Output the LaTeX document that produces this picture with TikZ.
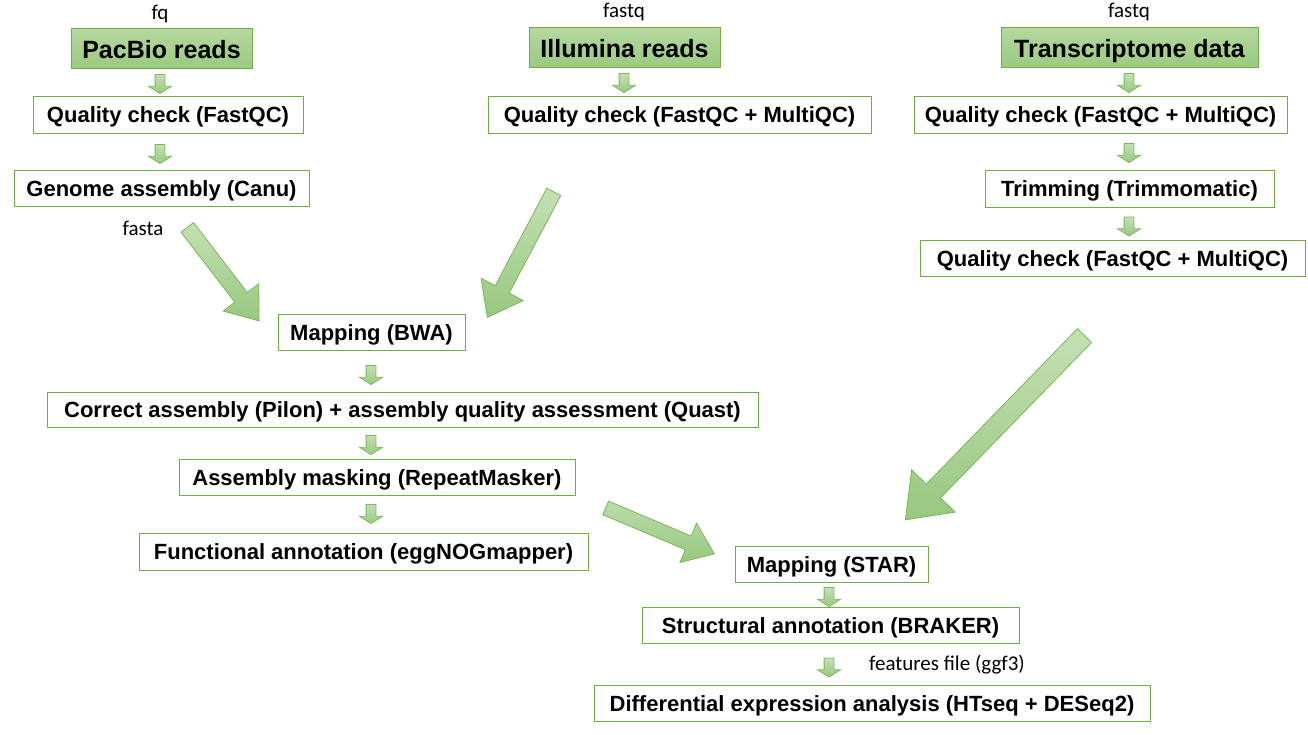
\documentclass[tikz,border=0pt]{standalone}
\usepackage{fontspec}
\setmainfont{Liberation Sans}
\newfontfamily\notefont{Carlito}
\usetikzlibrary{positioning,calc,shapes.arrows}
\definecolor{boxEdge}{HTML}{70AD47}
\definecolor{headTop}{HTML}{B5D8A0}
\definecolor{headBot}{HTML}{9ACA7F}
\definecolor{arrLight}{HTML}{C4E0B4}
\definecolor{arrDark}{HTML}{98C87F}
\definecolor{arrEdge}{HTML}{7DB65C}

\begin{document}
\begin{tikzpicture}[
    x=1pt, y=-1pt,
    font=\fontsize{22}{26}\selectfont\bfseries,
    box/.style={draw=boxEdge, line width=1pt, fill=white, minimum height=37pt,
      inner sep=0pt, text depth=0pt, align=center},
    head/.style={box, top color=headTop, bottom color=headBot, minimum height=40pt,
      font=\fontsize{25}{30}\selectfont\bfseries},
    note/.style={font=\notefont\fontsize{21}{25}\selectfont, inner sep=0pt},
    flow/.style={single arrow, draw=arrEdge, line width=0.8pt, top color=arrLight,
      bottom color=arrDark, inner xsep=0pt, inner ysep=4.5pt, minimum width=22pt,
      minimum height=19pt, single arrow head extend=6.5pt, single arrow tip angle=115,
      rotate=-90},
    bigflow/.style={single arrow, draw=arrEdge, line width=0.8pt, top color=arrLight,
      bottom color=arrDark, inner xsep=0pt, single arrow tip angle=74},
  ]
\useasboundingbox (0,0) rectangle (1308,735);

% ===== PacBio column =====
\node[head, minimum width=181pt] (pbHead) at (161.5,49) {PacBio reads};
\node[box, minimum width=270pt] (pbQC) at (168,115) {Quality check (FastQC)};
\node[box, minimum width=295pt, minimum height=36pt] (pbAsm) at (161.5,188.5) {Genome assembly (Canu)};
\node[note] (pbFq) at (160,14) {fq};
\node[note] (pbFasta) at (143,228) {fasta};

% ===== Illumina column =====
\node[head, minimum width=191pt] (ilHead) at (624.5,48) {Illumina reads};
\node[box, minimum width=383pt] (ilQC) at (679.5,115) {Quality check (FastQC + MultiQC)};
\node[note] (ilFq) at (624,12) {fastq};

% ===== Transcriptome column =====
\node[head, minimum width=257pt] (trHead) at (1129.5,48) {Transcriptome data};
\node[box, minimum width=373pt] (trQC) at (1100.5,115) {Quality check (FastQC + MultiQC)};
\node[box, minimum width=289pt] (trTrim) at (1129.5,189) {Trimming (Trimmomatic)};
\node[box, minimum width=385pt, minimum height=36pt] (trQC2) at (1112.5,258.5) {Quality check (FastQC + MultiQC)};
\node[note] (trFq) at (1129,12) {fastq};

% ===== Genome branch =====
\node[box, minimum width=187pt, minimum height=36pt] (bwa) at (371.5,332.5) {Mapping (BWA)};
\node[box, minimum width=711pt, minimum height=35pt] (pilon) at (402.5,410)
  {Correct assembly (Pilon) + assembly quality assessment (Quast)};
\node[box, minimum width=396pt, minimum height=36pt] (mask) at (377,477.5) {Assembly masking (RepeatMasker)};
\node[box, minimum width=449pt] (func) at (363.5,552) {Functional annotation (eggNOGmapper)};

% ===== Annotation branch =====
\node[box, minimum width=193pt, minimum height=36pt] (star) at (831.5,564.5) {Mapping (STAR)};
\node[box, minimum width=377pt, minimum height=36pt] (braker) at (830.5,625.5) {Structural annotation (BRAKER)};
\node[box, minimum width=556pt, minimum height=36pt] (deseq) at (872,703.5)
  {Differential expression analysis (HTseq + DESeq2)};
\node[note] (gff) at (947,665) {features file (ggf3)};

% Small step arrows
\node[flow] (f1) at (160,82.5) {};
\node[flow] (f2) at (160,152.5) {};
\node[flow] (f3) at (624,81.5) {};
\node[flow] (f4) at (1129,81.5) {};
\node[flow] (f5) at (1129,151.5) {};
\node[flow] (f6) at (1129,225) {};
\node[flow] (f7) at (371,373.5) {};
\node[flow] (f8) at (371,443.5) {};
\node[flow] (f9) at (371,512.5) {};
\node[flow] (f10) at (829,595.5) {};
\node[flow] (f11) at (829,666) {};

% Big arrows
\node[bigflow, minimum height=118pt, minimum width=44pt, inner ysep=7.5pt,
  single arrow head extend=14.5pt, rotate=-52.5] (asmToBwa) at (220,270) {};
\node[bigflow, minimum height=142pt, minimum width=47pt, inner ysep=7.5pt,
  single arrow head extend=16pt, rotate=-117.9] (ilToBwa) at (523,250) {};
\node[bigflow, minimum height=257pt, minimum width=60pt, inner ysep=9.5pt,
  single arrow head extend=20.5pt, rotate=-134.2] (trToStar) at (999.5,423) {};
\node[bigflow, minimum height=118pt, minimum width=42pt, inner ysep=7pt,
  single arrow head extend=14pt, rotate=-22.9, top color=arrLight!80!arrDark,
  bottom color=arrDark] (maskToStar) at (655.5,529) {};

\end{tikzpicture}
\end{document}
